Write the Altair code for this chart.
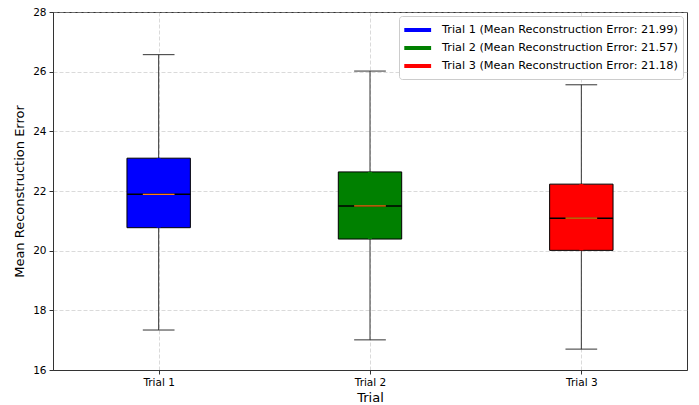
import altair as alt
import pandas as pd

# Summary statistics for each trial's reconstruction error
trials = ["Trial 1", "Trial 2", "Trial 3"]
positions = [1, 2, 3]
whisker_low = [17.34, 17.01, 16.70]
q1 = [20.77, 20.39, 20.01]
median = [21.89, 21.50, 21.09]
q3 = [23.10, 22.64, 22.23]
whisker_high = [26.57, 26.02, 25.56]
mean_error = [21.99, 21.57, 21.18]
box_colors = ["blue", "green", "red"]

legend_labels = [
    f"{t} (Mean Reconstruction Error: {m:.2f})" for t, m in zip(trials, mean_error)
]

df = pd.DataFrame({
    "trial": trials,
    "pos": positions,
    "lo": whisker_low,
    "q1": q1,
    "med": median,
    "q3": q3,
    "hi": whisker_high,
    "legend": legend_labels,
})

FONT = "DejaVu Sans"
BOX_HALF = 0.15
CAP_HALF = 0.075

x_scale = alt.Scale(domain=[0.5, 3.5], nice=False, zero=False)
y_scale = alt.Scale(domain=[16, 28], nice=False, zero=False)

x_axis = alt.Axis(
    title="Trial", values=positions, labelExpr="'Trial ' + datum.value",
    grid=True, titleFontSize=13, labelFontSize=10.5, titlePadding=4,
)
y_axis = alt.Axis(
    title="Mean Reconstruction Error", values=[16, 18, 20, 22, 24, 26, 28],
    grid=True, titleFontSize=13, labelFontSize=10.5, titlePadding=6,
)

base = alt.Chart(df).transform_calculate(
    left=f"datum.pos - {BOX_HALF}",
    right=f"datum.pos + {BOX_HALF}",
    cap_l=f"datum.pos - {CAP_HALF}",
    cap_r=f"datum.pos + {CAP_HALF}",
)

whisker_low_rule = base.mark_rule(color="#333", strokeWidth=1).encode(
    x=alt.X("pos:Q", scale=x_scale, axis=x_axis),
    y=alt.Y("lo:Q", scale=y_scale, axis=y_axis),
    y2="q1:Q",
)
whisker_high_rule = base.mark_rule(color="#333", strokeWidth=1).encode(
    x="pos:Q", y="q3:Q", y2="hi:Q",
)
cap_low = base.mark_rule(color="#333", strokeWidth=1).encode(
    x="cap_l:Q", x2="cap_r:Q", y="lo:Q",
)
cap_high = base.mark_rule(color="#333", strokeWidth=1).encode(
    x="cap_l:Q", x2="cap_r:Q", y="hi:Q",
)

boxes = base.mark_rect(stroke="black", strokeWidth=1).encode(
    x="left:Q", x2="right:Q", y="q1:Q", y2="q3:Q",
    fill=alt.Fill("trial:N", scale=alt.Scale(domain=trials, range=box_colors), legend=None),
)

# Thick colored line inside each box carries the legend entry
legend_carrier = base.mark_rule(strokeWidth=4).encode(
    x="pos:Q", y="q1:Q", y2="q3:Q",
    stroke=alt.Stroke(
        "legend:N",
        scale=alt.Scale(domain=legend_labels, range=box_colors),
        legend=alt.Legend(
            title=None, orient="top-right", offset=4,
            symbolType="M-1.3,0L2.7,0", symbolStrokeWidth=4, symbolSize=180,
            labelFontSize=11.3, labelFont=FONT, labelOffset=20, labelLimit=500,
            rowPadding=1, padding=5,
            strokeColor="#cccccc", fillColor="white", cornerRadius=3,
        ),
    ),
)

median_edge = base.mark_rule(color="black", strokeWidth=1.5).encode(
    x="left:Q", x2="right:Q", y="med:Q",
)
median_line = base.mark_rule(color="#ff7f0e", strokeWidth=1.2).encode(
    x="cap_l:Q", x2="cap_r:Q", y="med:Q",
)

chart = alt.layer(
    whisker_low_rule, whisker_high_rule, cap_low, cap_high,
    boxes, legend_carrier, median_edge, median_line,
).properties(
    width=634, height=358,
    autosize=alt.AutoSizeParams(type="none"),
    padding={"left": 53, "top": 12, "right": 12, "bottom": 35},
).configure(
    font=FONT,
).configure_view(
    stroke="#333", strokeWidth=1,
).configure_axis(
    labelFont=FONT, titleFont=FONT, titleFontWeight="normal",
    labelColor="black", titleColor="black",
    domainColor="#333", tickColor="#333", tickSize=4, labelPadding=3,
    gridColor="#b0b0b0", gridOpacity=0.6, gridDash=[4, 2], gridWidth=0.8,
)

chart.save("out.html", embed_options={"renderer": "svg", "actions": False})
